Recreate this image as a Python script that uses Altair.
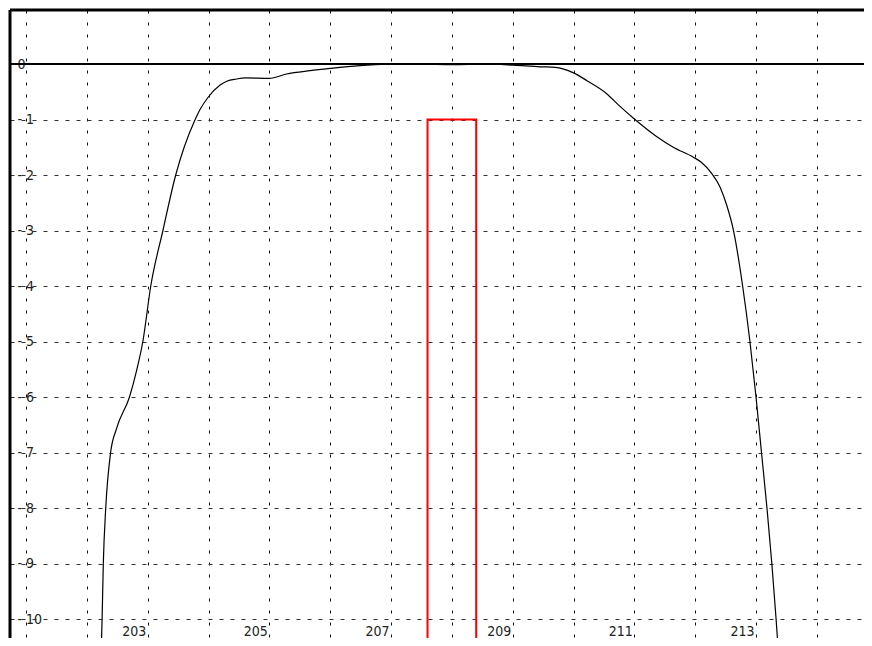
import altair as alt
import pandas as pd

# Curve
curve_x = [202.23, 202.25, 202.27, 202.31, 202.39, 202.49, 202.70, 202.82, 202.92,
           203.05, 203.25, 203.46, 203.78, 203.86, 204.00, 204.19, 204.30, 204.46,
           204.60, 205.00, 205.28, 205.67, 206.00, 206.49, 207.09, 207.50, 208.00,
           208.57, 209.01, 209.45, 209.70, 210.00, 210.22, 210.54, 210.76, 211.01,
           211.37, 211.64, 211.97, 212.10, 212.27, 212.41, 212.52, 212.63, 212.78,
           212.90, 213.00, 213.09, 213.18, 213.26, 213.33, 213.38]
curve_y = [-10.8, -10.0, -9.0, -8.0, -7.0, -6.56, -6.0, -5.51, -5.0,
           -4.0, -3.0, -2.0, -1.0, -0.82, -0.59, -0.38, -0.31, -0.27,
           -0.25, -0.26, -0.18, -0.12, -0.08, -0.03, 0.0, 0.0, -0.01,
           0.0, -0.02, -0.05, -0.06, -0.16, -0.30, -0.53, -0.76, -1.0,
           -1.31, -1.50, -1.68, -1.77, -1.97, -2.22, -2.55, -3.0, -4.0,
           -5.0, -6.0, -7.0, -8.0, -9.0, -10.0, -10.8]

# Red box
box_x = [207.6]
box_x2 = [208.4]
box_top = [-1.0]
box_bottom = [-11.0]

x_ticks = list(range(201, 215))
x_labelled = [203, 205, 207, 209, 211, 213]
y_ticks = list(range(-10, 1))

W, H = 854, 628
X_DOMAIN = [200.736, 200.736 + W / 60.83]
Y_DOMAIN = [0.973 - H / 55.5, 0.973]
FONT = "DejaVu Sans Condensed"

xs = alt.Scale(domain=X_DOMAIN, nice=False, zero=False)
ys = alt.Scale(domain=Y_DOMAIN, nice=False, zero=False)

curve_df = pd.DataFrame({"x": curve_x, "y": curve_y})
box_df = pd.DataFrame({"x": box_x, "x2": box_x2, "y": box_top, "y2": box_bottom})
zero_df = pd.DataFrame({"y": [0]})

label_test = " || ".join(f"datum.value == {v}" for v in x_labelled)
x_axis = alt.Axis(values=x_ticks, grid=True, gridDash=[3, 9], gridColor="#111",
                  gridOpacity=1, gridWidth=1, domain=False, ticks=False,
                  labelExpr=f"({label_test}) ? '' + datum.value : ''",
                  labelAlign="right", labelBaseline="alphabetic", labelPadding=-3,
                  labelOffset=-2, labelFont=FONT, labelFontSize=14,
                  labelColor="#222", labelOverlap=False, labelFlush=False,
                  title=None)
y_axis = alt.Axis(values=y_ticks, grid=True, gridDash=[4, 7], gridColor="#333",
                  gridOpacity=1, gridWidth=1, domain=False, ticks=False,
                  labelExpr="datum.value < 0 ? '- ' + abs(datum.value) : '\u2005' + datum.value",
                  labelAlign="left", labelBaseline="middle", labelPadding=-7,
                  labelFont=FONT, labelFontSize=14, labelColor="#222",
                  labelOverlap=False, labelFlush=False, title=None)

line = alt.Chart(curve_df).mark_line(color="black", strokeWidth=1.2,
                                      interpolate="monotone", clip=True).encode(
    x=alt.X("x:Q", scale=xs, axis=x_axis),
    y=alt.Y("y:Q", scale=ys, axis=y_axis),
)

box = alt.Chart(box_df).mark_rect(filled=False, stroke="#ff0000", strokeWidth=2,
                                  clip=True).encode(
    x=alt.X("x:Q", scale=xs), x2="x2:Q",
    y=alt.Y("y:Q", scale=ys), y2="y2:Q",
)

zero = alt.Chart(zero_df).mark_rule(color="black", strokeWidth=2).encode(
    y=alt.Y("y:Q", scale=ys)
)

top_border = alt.Chart(zero_df).mark_rule(color="black", strokeWidth=3).encode(
    x=alt.value(0), x2=alt.value(W), y=alt.value(0)
)
left_border = alt.Chart(zero_df).mark_rule(color="black", strokeWidth=3).encode(
    x=alt.value(0), y=alt.value(0), y2=alt.value(H)
)

chart = alt.layer(line, box, zero, top_border, left_border).properties(
    width=W, height=H,
    autosize=alt.AutoSizeParams(type="none"),
    padding={"left": 2, "top": 2, "right": 0, "bottom": 0},
).configure_view(stroke=None).configure(background="white")

chart.save("out.html", embed_options={"renderer": "svg", "actions": False})
